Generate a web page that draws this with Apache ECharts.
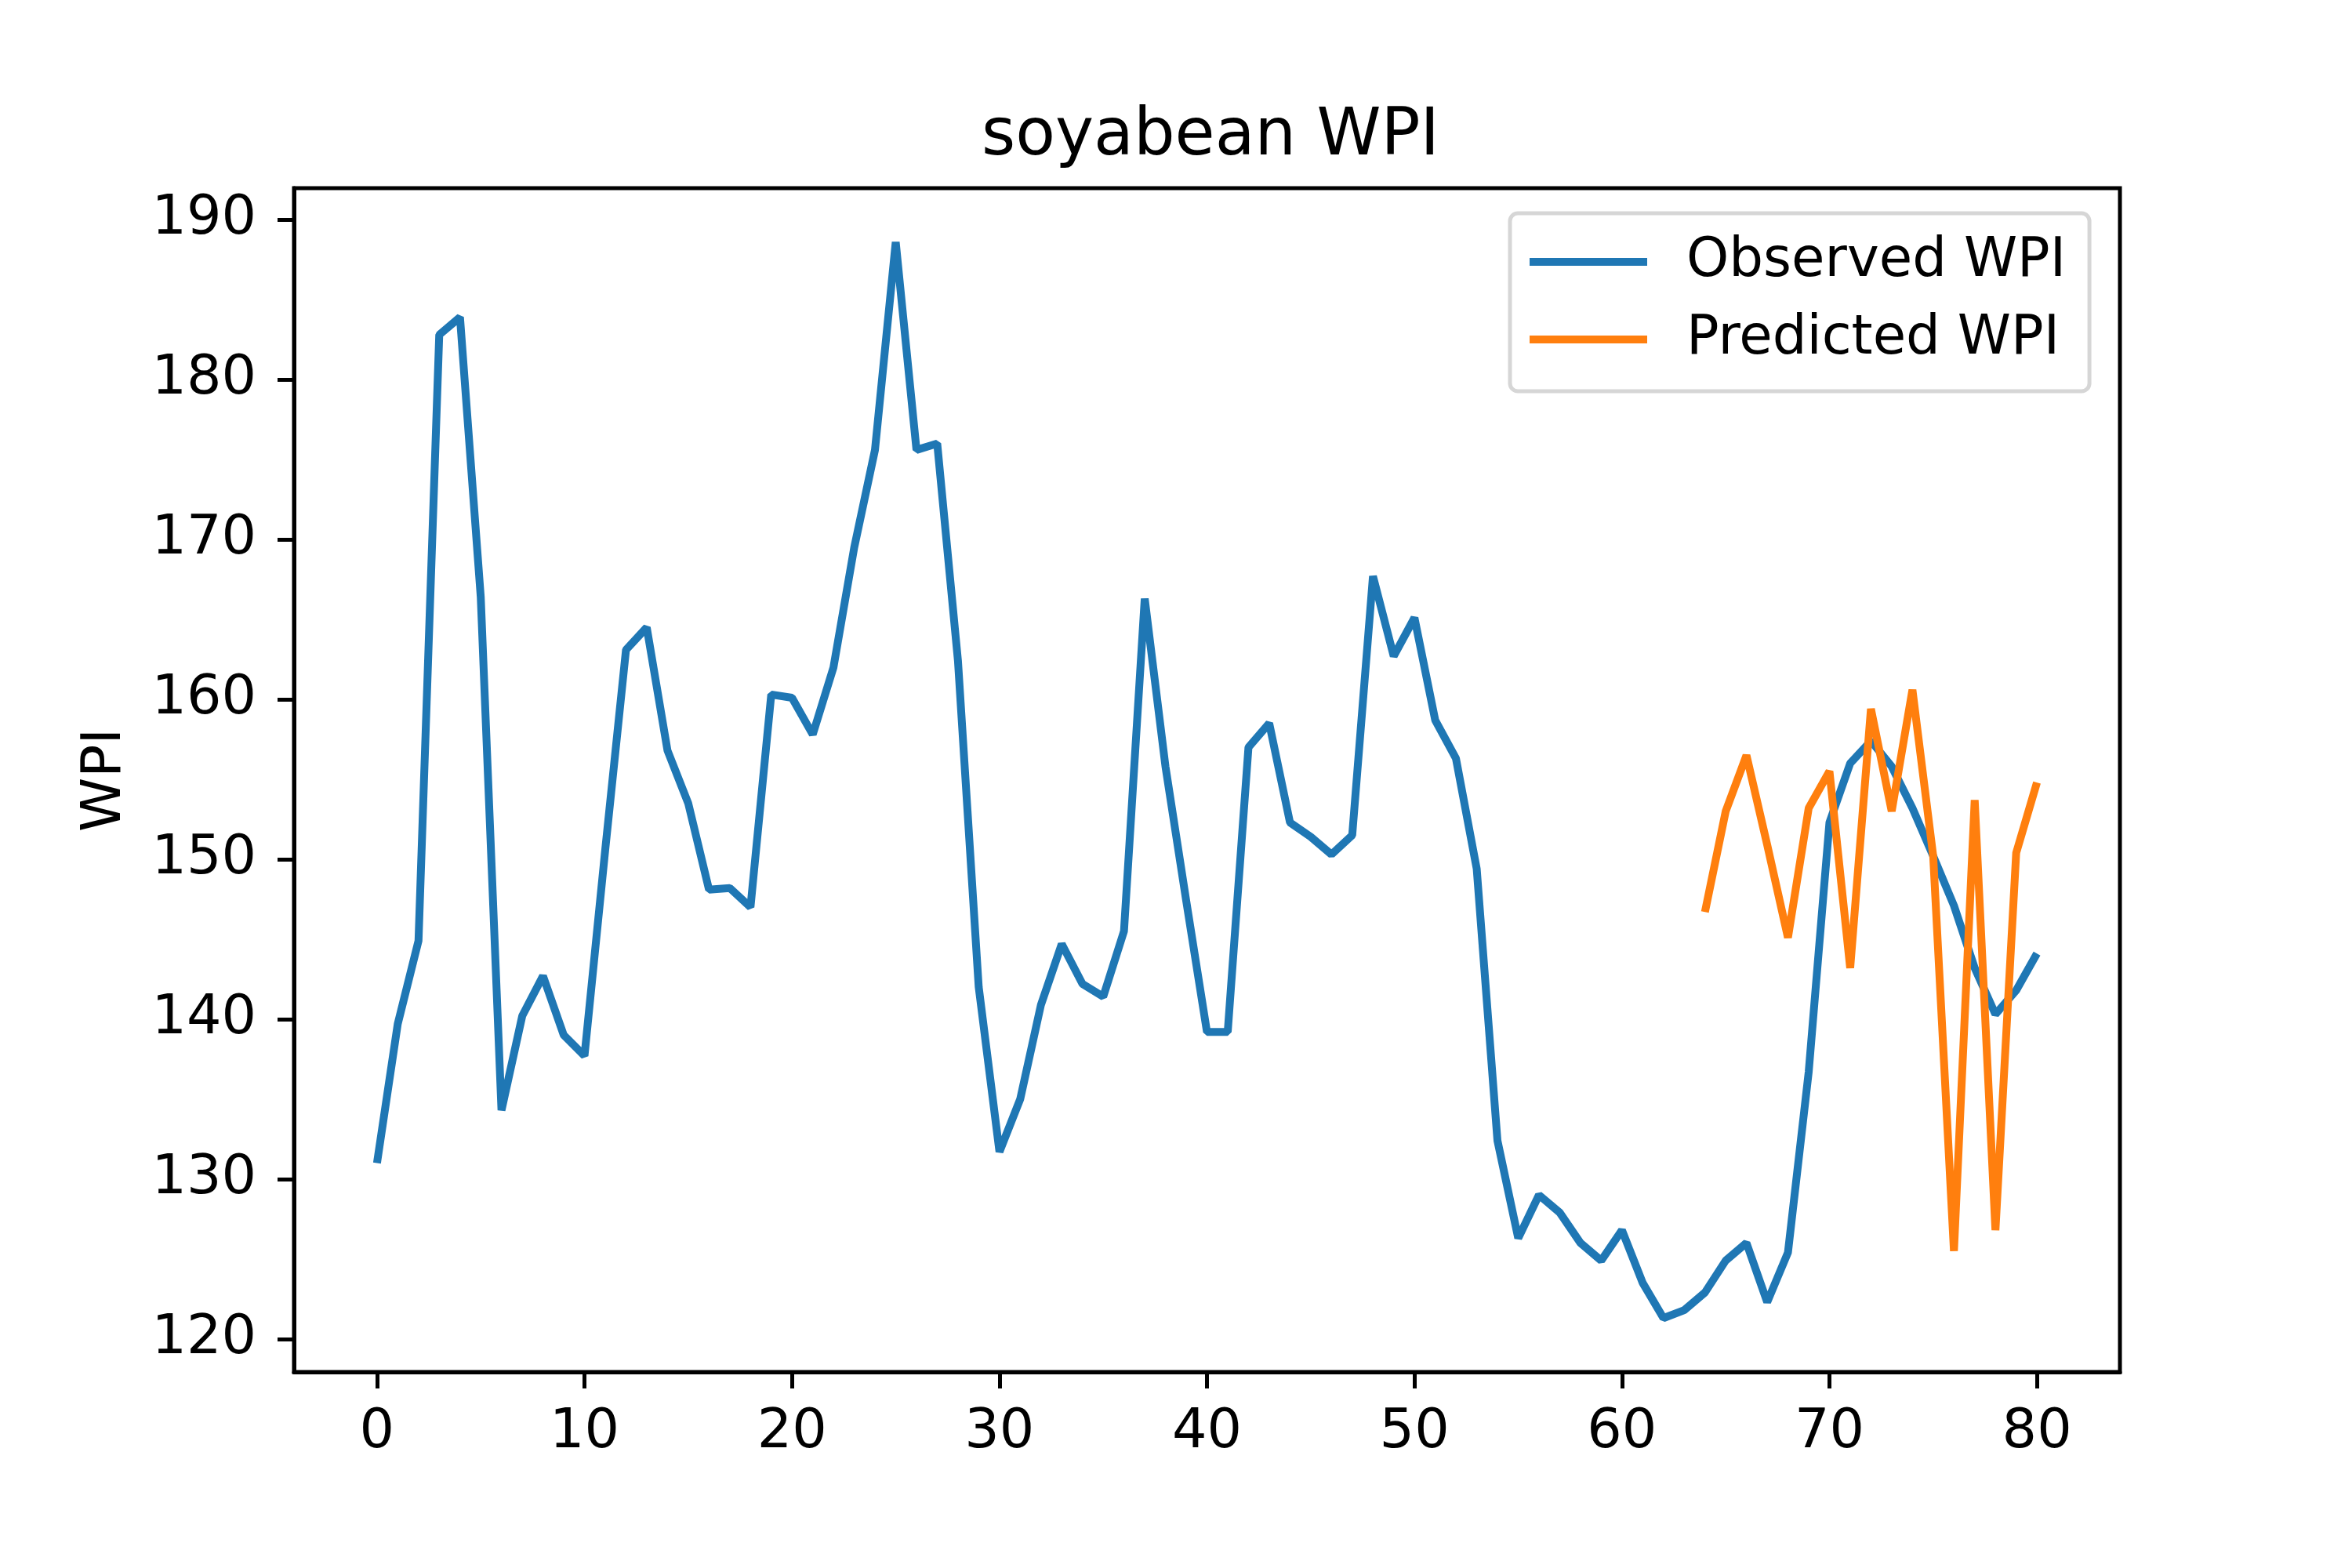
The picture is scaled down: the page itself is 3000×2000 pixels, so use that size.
<!DOCTYPE html>
<html>
<head>
<meta charset="utf-8">
<title>soyabean WPI</title>
<script src="https://cdn.jsdelivr.net/npm/echarts@6/dist/echarts.min.js"></script>
<style>
    html, body { margin: 0; padding: 0; background: #fff; }
    #chart { width: 3000px; height: 2000px; }
</style>
</head>
<body>
<div id="chart"></div>
<script>
// observed WPI, x = 0..80
var observed = [
    131.0, 139.7, 144.9, 182.8, 183.9, 166.4, 134.3, 140.2, 142.7, 139.0,
    137.7, 150.6, 163.1, 164.5, 156.8, 153.5, 148.1, 148.2, 147.0, 160.3,
    160.1, 157.8, 162.0, 169.5, 175.6, 188.6, 175.6, 176.0, 162.4, 142.0,
    131.7, 135.0, 140.9, 144.7, 142.2, 141.4, 145.5, 166.3, 155.8, 147.4,
    139.2, 139.2, 157.0, 158.5, 152.3, 151.4, 150.3, 151.5, 167.7, 162.7,
    165.1, 158.7, 156.3, 149.4, 132.4, 126.3, 129.0, 127.9, 126.0, 124.9,
    126.8, 123.5, 121.3, 121.8, 122.9, 124.9, 126.0, 122.3, 125.4, 136.7,
    152.3, 156.0, 157.4, 155.8, 153.2, 150.2, 147.1, 143.2, 140.3, 141.8,
    144.1
];

// predicted WPI, starts at x = 64
var predStart = 64;
var predicted = [
    146.7, 153.0, 156.5, 150.9, 145.1, 153.2, 155.5, 143.2, 159.4, 153.0,
    160.6, 150.2, 125.5, 153.7, 126.8, 150.4, 154.8
];

var xTicks = [0, 10, 20, 30, 40, 50, 60, 70, 80];
var yTicks = [120, 130, 140, 150, 160, 170, 180, 190];

var obsData = observed.map(function (v, i) { return [i, v]; });
var predData = predicted.map(function (v, i) { return [predStart + i, v]; });

var font = 'DejaVu Sans';

var option = {
    backgroundColor: '#ffffff',
    animation: false,
    textStyle: { fontFamily: font, color: '#000' },
    title: {
        text: 'soyabean WPI',
        left: 1539,
        textAlign: 'center',
        top: 129,
        textStyle: { fontFamily: font, fontSize: 83, fontWeight: 'normal', color: '#000' }
    },
    grid: {
        left: 375, right: 296, top: 240, bottom: 250,
        show: true,
        borderColor: '#000',
        borderWidth: 5,
        backgroundColor: 'transparent'
    },
    legend: {
        orient: 'vertical',
        left: 1926,
        top: 272,
        padding: [27, 30, 31, 25],
        icon: 'rect',
        itemWidth: 150,
        itemHeight: 10,
        itemGap: 29,
        backgroundColor: 'rgba(255,255,255,0.8)',
        borderColor: '#d6d6d6',
        borderWidth: 5,
        borderRadius: 10,
        textStyle: { fontFamily: font, fontSize: 69, color: '#000', lineHeight: 70, padding: [0, 0, 0, 45] },
        data: ['Observed WPI', 'Predicted WPI']
    },
    xAxis: {
        type: 'value',
        min: -4,
        max: 84,
        splitLine: { show: false },
        axisLine: { show: true, onZero: false, lineStyle: { color: '#000', width: 5 } },
        axisTick: { show: true, length: 21, lineStyle: { color: '#000', width: 5 }, customValues: xTicks },
        axisLabel: { fontFamily: font, fontSize: 70, color: '#000', margin: 43, customValues: xTicks }
    },
    yAxis: {
        type: 'value',
        min: 117.93,
        max: 191.97,
        name: 'WPI',
        nameLocation: 'middle',
        nameGap: 205,
        nameTextStyle: { fontFamily: font, fontSize: 70, color: '#000' },
        splitLine: { show: false },
        axisLine: { show: true, onZero: false, lineStyle: { color: '#000', width: 5 } },
        axisTick: { show: true, length: 21, lineStyle: { color: '#000', width: 5 }, customValues: yTicks },
        axisLabel: { fontFamily: font, fontSize: 70, color: '#000', margin: 48, customValues: yTicks }
    },
    series: [
        {
            name: 'Observed WPI',
            type: 'line',
            data: obsData,
            showSymbol: false,
            symbol: 'none',
            color: '#1f77b4',
            lineStyle: { color: '#1f77b4', width: 10 }
        },
        {
            name: 'Predicted WPI',
            type: 'line',
            data: predData,
            showSymbol: false,
            symbol: 'none',
            color: '#ff7f0e',
            lineStyle: { color: '#ff7f0e', width: 10 }
        }
    ]
};

var myChart = echarts.init(document.getElementById('chart'));
myChart.setOption(option);
</script>
</body>
</html>
